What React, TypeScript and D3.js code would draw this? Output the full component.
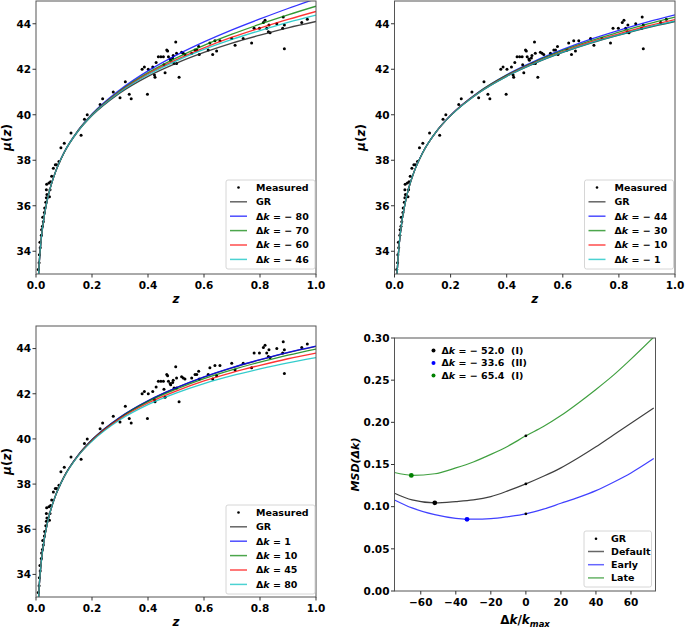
import React from "react";
import * as d3 from "d3";

// ---------- data ----------
const zMeasured = [0.008,0.011,0.012,0.015,0.014,0.019,0.02,0.023,0.026,0.024,0.03,0.031,0.035,0.037,0.039,0.037,0.038,0.046,0.05,0.048,0.052,0.056,0.062,0.069,0.074,0.082,0.089,0.101,0.125,0.161,0.173,0.183,0.229,0.238,0.276,0.3,0.319,0.333,0.34,0.379,0.387,0.398,0.401,0.417,0.423,0.425,0.429,0.437,0.446,0.455,0.457,0.461,0.467,0.47,0.473,0.479,0.481,0.488,0.49,0.493,0.499,0.502,0.502,0.511,0.52,0.526,0.532,0.556,0.568,0.574,0.581,0.583,0.615,0.621,0.631,0.639,0.645,0.657,0.699,0.711,0.74,0.77,0.779,0.798,0.812,0.818,0.824,0.83,0.832,0.836,0.86,0.881,0.883,0.887,0.887,0.949,0.969];
const muMeasured = [33.2,33.5,33.85,34.15,34.4,34.7,34.95,35.1,35.3,35.5,35.7,35.9,36.15,36.35,36.5,36.7,36.95,37.0,36.7,36.4,37.05,37.3,37.65,37.8,37.8,37.95,38.55,38.75,39.2,39.1,39.8,40.0,40.45,40.7,41.0,40.75,41.45,40.9,40.7,42.0,42.1,40.9,42.0,42.1,41.75,41.65,42.3,42.55,42.55,42.55,42.2,41.85,42.85,42.8,42.55,42.45,42.4,42.5,42.6,42.25,43.2,42.7,42.25,41.65,42.75,42.7,42.65,42.7,42.85,42.85,43.0,42.65,42.85,43.15,42.65,43.25,42.8,43.25,43.35,43.05,43.35,43.15,43.8,43.8,44.05,44.15,43.8,43.65,43.95,43.6,44.0,43.8,44.3,42.9,43.95,44.05,44.2];

const zGrid = [0.008,0.01,0.015,0.02,0.03,0.04,0.05,0.07,0.1,0.15,0.2,0.3,0.4,0.5,0.6,0.7,0.8,0.9,1.0];
const muGR = [32.69,33.18,34.06,34.70,35.59,36.24,36.74,37.50,38.32,39.27,39.96,40.96,41.69,42.26,42.74,43.15,43.50,43.82,44.10];
// panel a
const muA_m80 = [32.69,33.18,34.06,34.70,35.59,36.24,36.74,37.50,38.34,39.31,40.03,41.10,41.93,42.61,43.20,43.73,44.21,44.67,45.10];
const muA_m70 = [32.69,33.18,34.06,34.70,35.59,36.24,36.74,37.50,38.33,39.30,40.01,41.05,41.85,42.49,43.05,43.54,43.98,44.39,44.77];
const muA_m60 = [32.69,33.18,34.06,34.70,35.59,36.24,36.74,37.50,38.33,39.29,39.99,41.02,41.80,42.41,42.94,43.41,43.81,44.19,44.54];
const muA_m46 = [32.69,33.18,34.06,34.70,35.59,36.24,36.74,37.50,38.33,39.28,39.98,41.00,41.76,42.36,42.87,43.31,43.70,44.06,44.38];
// panel b
const muB_m44 = [32.69,33.18,34.06,34.70,35.59,36.24,36.74,37.50,38.33,39.28,39.98,41.00,41.76,42.36,42.87,43.32,43.71,44.07,44.39];
const muB_m30 = [32.69,33.18,34.06,34.70,35.59,36.24,36.74,37.50,38.32,39.28,39.97,40.99,41.74,42.33,42.83,43.26,43.63,43.98,44.29];
const muB_m10 = [32.69,33.18,34.06,34.70,35.59,36.24,36.74,37.50,38.32,39.27,39.97,40.97,41.71,42.29,42.78,43.20,43.56,43.89,44.18];
const muB_m1 = [32.69,33.18,34.06,34.70,35.59,36.24,36.74,37.50,38.32,39.27,39.96,40.96,41.69,42.27,42.75,43.16,43.51,43.84,44.12];
// panel c
const muC_p1 = [32.69,33.18,34.06,34.70,35.59,36.24,36.74,37.50,38.32,39.27,39.96,40.96,41.69,42.26,42.75,43.16,43.51,43.83,44.11];
const muC_p10 = [32.69,33.18,34.06,34.70,35.59,36.24,36.74,37.50,38.32,39.26,39.95,40.93,41.65,42.20,42.67,43.06,43.40,43.71,43.98];
const muC_p45 = [32.69,33.18,34.06,34.70,35.59,36.24,36.74,37.50,38.31,39.25,39.93,40.90,41.59,42.12,42.57,42.94,43.26,43.55,43.80];
const muC_p80 = [32.69,33.18,34.06,34.70,35.59,36.24,36.74,37.50,38.30,39.24,39.90,40.85,41.52,42.03,42.45,42.80,43.10,43.37,43.60];

const legendA = ["− 80", "− 70", "− 60", "− 46"];
const legendB = ["− 44", "− 30", "− 10", "− 1"];
const legendC = ["1", "10", "45", "80"];

// panel d
const dkGrid = [-75,-65,-52,-40,-30,-20,-10,0,10,20,30,40,50,60,73];
const msdDefault = [0.116,0.108,0.1045,0.106,0.108,0.112,0.119,0.127,0.136,0.146,0.158,0.171,0.185,0.199,0.217];
const msdEarly = [0.108,0.0985,0.0905,0.0862,0.0852,0.0858,0.0882,0.0915,0.097,0.104,0.111,0.119,0.129,0.140,0.157];
const msdLate = [0.1405,0.1372,0.139,0.146,0.153,0.162,0.172,0.184,0.195,0.208,0.223,0.239,0.256,0.275,0.301];
const minDk = [-52.0, -33.6, -65.4];
const minMsd = [0.1045, 0.085, 0.137];
const minLabels = ["− 52.0  (I)", "− 33.6  (II)", "− 65.4  (I)"];
const grMsd = [0.127, 0.0915, 0.184];

const muTicks = [34, 36, 38, 40, 42, 44];
const zTicks = [0, 0.2, 0.4, 0.6, 0.8, 1.0];
const dkTicks = [-60, -40, -20, 0, 20, 40, 60];
const msdTicks = [0, 0.05, 0.1, 0.15, 0.2, 0.25, 0.3];

const COLORS = ["#0000ff", "#008000", "#ff0000", "#00bfbf"];
const FONT = "DejaVu Sans, sans-serif";

type Box = { x0: number; x1: number; y0: number; y1: number };

function Frame({ b }: { b: Box }) {
  return <rect x={b.x0} y={b.y0} width={b.x1 - b.x0} height={b.y1 - b.y0} fill="none" stroke="#555" strokeWidth={1} />;
}

function MuPanel({ id, b, curves, labels, legendX, legendY, yLabelX }: any) {
  const x = d3.scaleLinear().domain([0, 1]).range([b.x0, b.x1]);
  const y = d3.scaleLinear().domain([33, 45]).range([b.y1, b.y0]);
  const line = d3.line<number>().x((_, i) => x(zGrid[i])).y((d) => y(d)).curve(d3.curveMonotoneX);
  const all = [muGR, ...curves];
  const cols = ["#222", ...COLORS];
  const lg = ["GR", ...labels];
  return (
    <g fontFamily={FONT} fontWeight="bold">
      <defs>
        <clipPath id={"clip" + id}>
          <rect x={b.x0} y={b.y0} width={b.x1 - b.x0} height={b.y1 - b.y0} />
        </clipPath>
      </defs>
      <g clipPath={`url(#clip${id})`}>
        {zMeasured.map((z, i) => (
          <circle key={i} cx={x(z)} cy={y(muMeasured[i])} r={1.5} fill="#000" />
        ))}
        {all.map((c, i) => (
          <path key={i} d={line(c) || ""} fill="none" stroke={cols[i]} strokeOpacity={i === 0 ? 0.85 : 0.8} strokeWidth={1.3} />
        ))}
      </g>
      <Frame b={b} />
      {zTicks.map((t) => (
        <g key={t}>
          <line x1={x(t)} x2={x(t)} y1={b.y1} y2={b.y1 + 3.5} stroke="#333" />
          <text x={x(t)} y={b.y1 + 15} fontSize={10.5} textAnchor="middle">{t.toFixed(1)}</text>
        </g>
      ))}
      {muTicks.map((t) => (
        <g key={t}>
          <line x1={b.x0 - 3.5} x2={b.x0} y1={y(t)} y2={y(t)} stroke="#333" />
          <text x={b.x0 - 5} y={y(t)} dy="0.36em" fontSize={10.5} textAnchor="end">{t}</text>
        </g>
      ))}
      <text x={(b.x0 + b.x1) / 2} y={b.y1 + 29} fontSize={12} fontStyle="italic" textAnchor="middle">z</text>
      <text transform={`translate(${yLabelX},${(b.y0 + b.y1) / 2}) rotate(-90)`} fontSize={12} textAnchor="middle" dy="0.35em">
        <tspan fontStyle="italic">μ</tspan>(<tspan fontStyle="italic">z</tspan>)
      </text>
      <g transform={`translate(${legendX},${legendY})`} fontSize={9.5}>
        <rect x={0} y={0} width={89} height={89} rx={2} fill="#fff" fillOpacity={0.85} stroke="#ccc" strokeWidth={0.8} />
        <circle cx={12.5} cy={7.5} r={1.3} fill="#000" />
        <text x={30} y={7.5} dy="0.35em">Measured</text>
        {lg.map((l, i) => (
          <g key={l} transform={`translate(0,${21.8 + i * 14.4})`}>
            <line x1={4} x2={21} y1={0} y2={0} stroke={cols[i]} strokeOpacity={0.7} strokeWidth={1.5} />
            <text x={30} y={0} dy="0.35em">
              {i === 0 ? "GR" : (<><tspan>Δ</tspan><tspan fontStyle="italic">k</tspan><tspan>{" = " + l}</tspan></>)}
            </text>
          </g>
        ))}
      </g>
    </g>
  );
}

function MsdPanel({ b }: { b: Box }) {
  const x = d3.scaleLinear().domain([-75, 74]).range([b.x0, b.x1]);
  const y = d3.scaleLinear().domain([0, 0.3]).range([b.y1, b.y0]);
  const line = d3.line<number>().x((_, i) => x(dkGrid[i])).y((d) => y(d)).curve(d3.curveMonotoneX);
  const series = [msdDefault, msdEarly, msdLate];
  const cols = ["#000", "#0000ff", "#008000"];
  const names = ["Default", "Early", "Late"];
  return (
    <g fontFamily={FONT} fontWeight="bold">
      <defs>
        <clipPath id="clipD">
          <rect x={b.x0} y={b.y0} width={b.x1 - b.x0} height={b.y1 - b.y0} />
        </clipPath>
      </defs>
      <g clipPath="url(#clipD)">
        {series.map((s, i) => (
          <path key={i} d={line(s) || ""} fill="none" stroke={cols[i]} strokeOpacity={0.75} strokeWidth={1.2} />
        ))}
        {grMsd.map((v, i) => (
          <circle key={"g" + i} cx={x(0)} cy={y(v)} r={1.4} fill="#000" />
        ))}
        {minDk.map((v, i) => (
          <circle key={"m" + i} cx={x(v)} cy={y(minMsd[i])} r={2.4} fill={cols[i]} />
        ))}
      </g>
      <Frame b={b} />
      {dkTicks.map((t) => (
        <g key={t}>
          <line x1={x(t)} x2={x(t)} y1={b.y1} y2={b.y1 + 3.5} stroke="#333" />
          <text x={x(t)} y={b.y1 + 15} fontSize={10.5} textAnchor="middle">{t < 0 ? "−" + Math.abs(t) : t}</text>
        </g>
      ))}
      {msdTicks.map((t) => (
        <g key={t}>
          <line x1={b.x0 - 3.5} x2={b.x0} y1={y(t)} y2={y(t)} stroke="#333" />
          <text x={b.x0 - 5} y={y(t)} dy="0.36em" fontSize={10.5} textAnchor="end">{t.toFixed(2)}</text>
        </g>
      ))}
      <text x={(b.x0 + b.x1) / 2} y={b.y1 + 33} fontSize={12} textAnchor="middle">
        <tspan>Δ</tspan><tspan fontStyle="italic">k</tspan><tspan>/</tspan><tspan fontStyle="italic">k</tspan>
        <tspan fontStyle="italic" fontSize={8.5} dy="3">max</tspan>
      </text>
      <text transform={`translate(${b.x0 - 39},${(b.y0 + b.y1) / 2}) rotate(-90)`} fontSize={11} fontStyle="italic" textAnchor="middle" dy="0.35em">
        MSD(Δk)
      </text>
      {minLabels.map((l, i) => (
        <g key={l} transform={`translate(${b.x0 + 39},${b.y0 + 12.5 + i * 12.5})`} fontSize={9.5}>
          <circle cx={0} cy={0} r={2} fill={cols[i]} />
          <text x={8} y={0} dy="0.35em" xmlSpace="preserve">
            <tspan>Δ</tspan><tspan fontStyle="italic">k</tspan><tspan>{" = " + l}</tspan>
          </text>
        </g>
      ))}
      <g transform={`translate(${b.x1 - 71.5},${b.y1 - 60})`} fontSize={9.5}>
        <rect x={0} y={0} width={67.5} height={56} rx={2} fill="#fff" fillOpacity={0.85} stroke="#ccc" strokeWidth={0.8} />
        <circle cx={12} cy={7.7} r={1.3} fill="#000" />
        <text x={27} y={7.7} dy="0.35em">GR</text>
        {names.map((n, i) => (
          <g key={n} transform={`translate(0,${20.5 + i * 13.2})`}>
            <line x1={4} x2={20} y1={0} y2={0} stroke={cols[i]} strokeOpacity={0.6} strokeWidth={1.5} />
            <text x={27} y={0} dy="0.35em">{n}</text>
          </g>
        ))}
      </g>
    </g>
  );
}

export default function App() {
  const pA: Box = { x0: 36, x1: 316, y0: 1, y1: 274 };
  const pB: Box = { x0: 394.5, x1: 675, y0: 1, y1: 274 };
  const pC: Box = { x0: 36, x1: 316, y0: 326, y1: 597 };
  const pD: Box = { x0: 394.5, x1: 655.5, y0: 338, y1: 591 };
  return (
    <svg width={685} height={628} viewBox="0 0 685 628" style={{ position: "fixed", left: 0, top: 0, background: "#fff" }}>
      <rect width={685} height={628} fill="#fff" />
      <MuPanel id="A" b={pA} curves={[muA_m80, muA_m70, muA_m60, muA_m46]} labels={legendA} legendX={226} legendY={180} yLabelX={7} />
      <MuPanel id="B" b={pB} curves={[muB_m44, muB_m30, muB_m10, muB_m1]} labels={legendB} legendX={584.5} legendY={180} yLabelX={361} />
      <MuPanel id="C" b={pC} curves={[muC_p1, muC_p10, muC_p45, muC_p80]} labels={legendC} legendX={226} legendY={505} yLabelX={7} />
      <MsdPanel b={pD} />
    </svg>
  );
}
